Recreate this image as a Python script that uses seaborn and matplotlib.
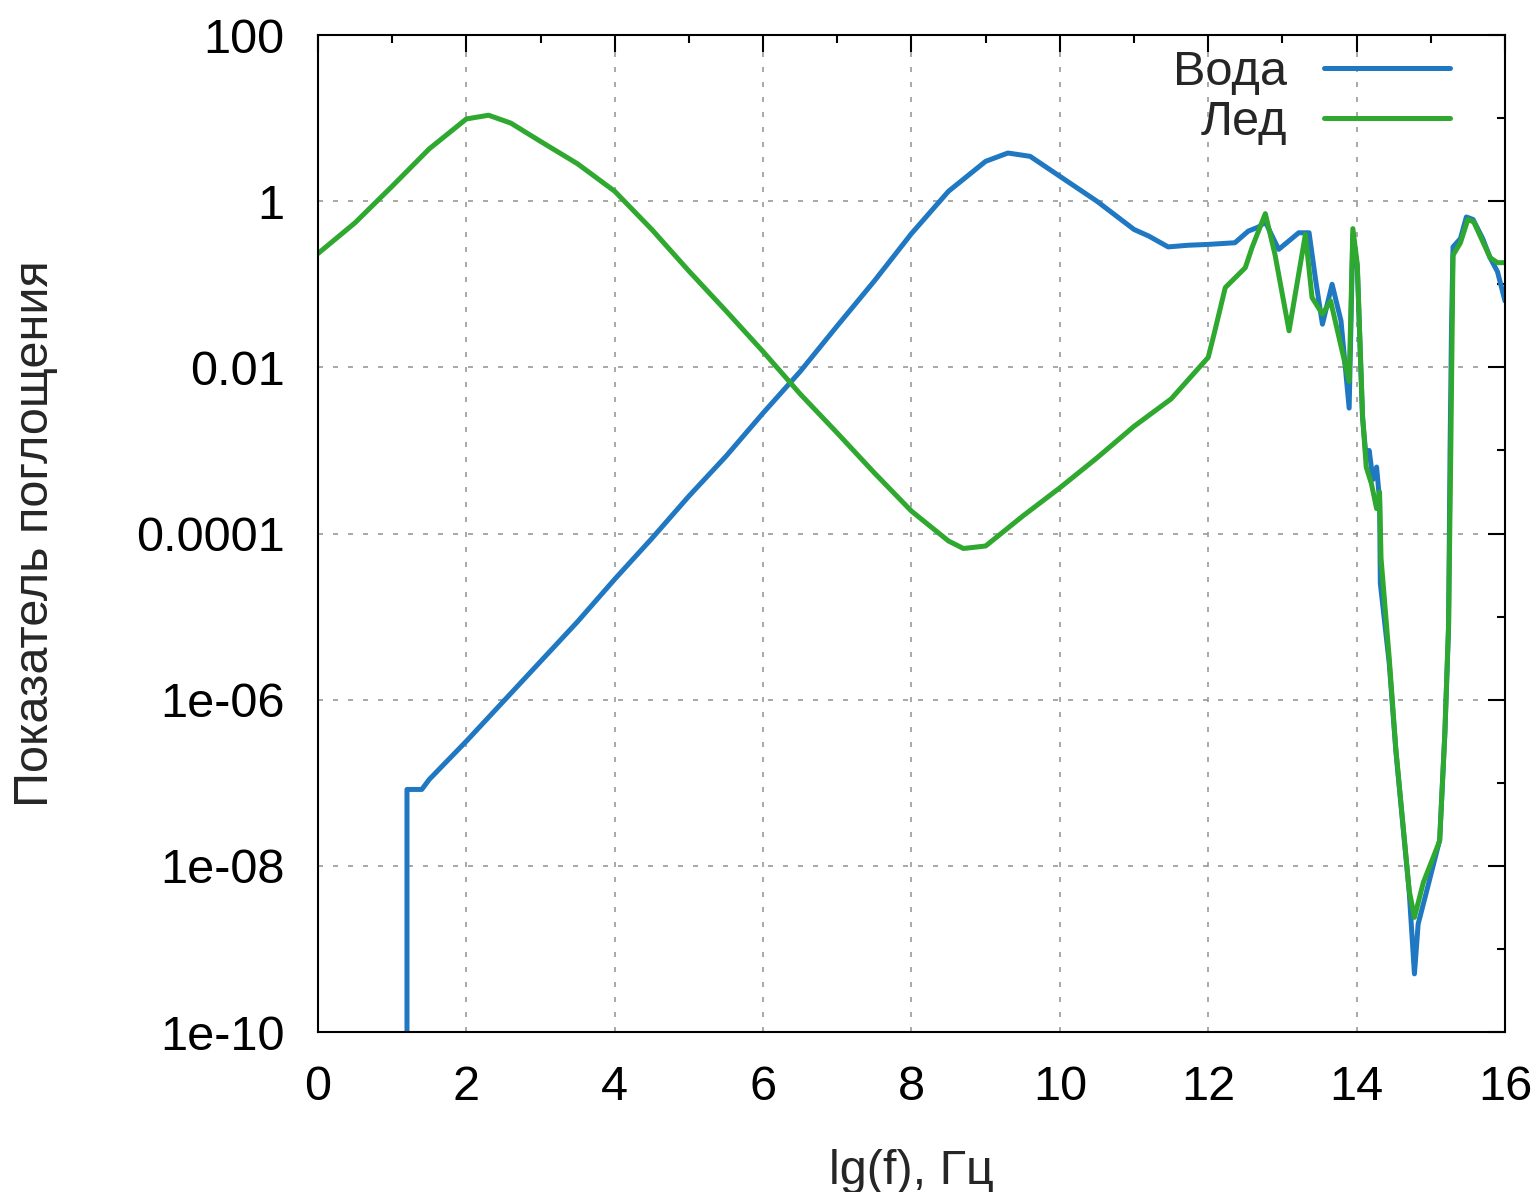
import numpy as np
import pandas as pd
import seaborn as sns
import matplotlib.pyplot as plt
from matplotlib.ticker import FixedLocator, NullFormatter

# water: lg(f) and lg(absorption index)
water_x = [1.2, 1.2, 1.4, 1.5, 2.0, 2.5, 3.0, 3.5, 4.0, 4.5, 5.0, 5.5, 6.0, 6.5,
           7.0, 7.5, 8.0, 8.5, 9.0, 9.3, 9.6, 10.0, 10.5, 11.0, 11.2, 11.46,
           11.73, 12.0, 12.36, 12.54, 12.68, 12.77, 12.95, 13.22, 13.36, 13.45,
           13.54, 13.67, 13.79, 13.90, 13.95, 14.01, 14.08, 14.13, 14.17, 14.22,
           14.27, 14.31, 14.32, 14.44, 14.53, 14.62, 14.71, 14.78, 14.83, 14.94,
           15.12, 15.19, 15.24, 15.26, 15.28, 15.30, 15.40, 15.48, 15.57, 15.70,
           15.80, 15.90, 16.0]
water_lg = [-12, -7.08, -7.08, -6.96, -6.5, -6.02, -5.54, -5.06, -4.55, -4.06,
            -3.55, -3.07, -2.55, -2.05, -1.50, -0.96, -0.39, 0.12, 0.48, 0.58,
            0.54, 0.30, 0.0, -0.34, -0.42, -0.55, -0.53, -0.52, -0.50, -0.36,
            -0.31, -0.25, -0.58, -0.38, -0.38, -0.96, -1.48, -1.0, -1.44, -2.49,
            -0.4, -0.8, -2.6, -3.1, -3.0, -3.35, -3.2, -3.6, -4.6, -5.56, -6.62,
            -7.47, -8.32, -9.3, -8.7, -8.32, -7.69, -6.41, -5.14, -3.0, -1.5,
            -0.55, -0.45, -0.19, -0.22, -0.45, -0.68, -0.85, -1.2]

# ice
ice_x = [0.0, 0.5, 1.0, 1.5, 2.0, 2.3, 2.6, 3.0, 3.5, 4.0, 4.5, 5.0, 5.5, 6.0,
         6.5, 7.0, 7.5, 8.0, 8.5, 8.7, 9.0, 9.5, 10.0, 10.5, 11.0, 11.5, 12.0,
         12.09, 12.23, 12.50, 12.59, 12.77, 12.9, 13.09, 13.31, 13.40, 13.54,
         13.65, 13.90, 13.95, 14.01, 14.08, 14.13, 14.20, 14.27, 14.31, 14.33,
         14.44, 14.53, 14.62, 14.71, 14.78, 14.90, 15.12, 15.19, 15.24, 15.27,
         15.30, 15.40, 15.50, 15.58, 15.80, 15.90, 16.0]
ice_lg = [-0.63, -0.26, 0.18, 0.63, 0.99, 1.035, 0.94, 0.72, 0.45, 0.12, -0.34,
          -0.84, -1.32, -1.81, -2.32, -2.79, -3.27, -3.73, -4.09, -4.18, -4.15,
          -3.79, -3.45, -3.09, -2.71, -2.38, -1.88, -1.56, -1.04, -0.80, -0.56,
          -0.15, -0.64, -1.56, -0.40, -1.16, -1.36, -1.2, -2.17, -0.33, -0.76,
          -2.57, -3.2, -3.4, -3.7, -3.5, -4.3, -5.5, -6.6, -7.45, -8.3, -8.62,
          -8.2, -7.7, -6.4, -5.1, -3.0, -0.65, -0.5, -0.22, -0.25, -0.68,
          -0.74, -0.74]

labels = ['Вода', 'Лед']
colors = ['#1f78c1', '#2fa82f']

df = pd.concat([
    pd.DataFrame({'x': water_x, 'y': np.power(10.0, water_lg), 's': labels[0]}),
    pd.DataFrame({'x': ice_x, 'y': np.power(10.0, ice_lg), 's': labels[1]}),
])

sns.set_style('white')
plt.rcParams['font.family'] = ['Liberation Sans', 'DejaVu Sans']

fig = plt.figure(figsize=(15.33, 11.92), dpi=100)
ax = fig.add_axes([0.2074, 0.1342, 0.7743, 0.8364])

sns.lineplot(data=df, x='x', y='y', hue='s', palette=colors, estimator=None,
             sort=False, linewidth=3.6, ax=ax)

ax.set_yscale('log')
ax.set_xlim(0, 16)
ax.set_ylim(1e-10, 100)

yt = [1e-10, 1e-8, 1e-6, 1e-4, 1e-2, 1, 100]
ax.yaxis.set_major_locator(FixedLocator(yt))
ax.set_yticklabels(['1e-10', '1e-08', '1e-06', '0.0001', '0.01', '1', '100'])
ax.yaxis.set_minor_locator(FixedLocator([1e-9, 1e-7, 1e-5, 1e-3, 0.1, 10]))
ax.yaxis.set_minor_formatter(NullFormatter())
ax.set_xticks(range(0, 17, 2))
ax.xaxis.set_minor_locator(FixedLocator(range(1, 16, 2)))
ax.xaxis.set_minor_formatter(NullFormatter())

ax.tick_params(which='both', direction='in', top=True, right=True,
               labelsize=35, width=1.5, colors='black')
ax.tick_params(which='major', length=12)
ax.tick_params(which='minor', length=6)
ax.tick_params(axis='x', which='major', pad=24)
ax.tick_params(axis='y', which='major', pad=24)

ax.grid(True, which='major', color='#999999', linestyle=(0, (3, 6)), linewidth=1.2)
for s in ax.spines.values():
    s.set_color('black')
    s.set_linewidth(1.5)

ax.set_xlabel('lg(f), Гц', fontsize=35, labelpad=28)
ax.set_ylabel('Показатель поглощения', fontsize=35, labelpad=56)

leg = ax.legend(loc='upper right', frameon=False, markerfirst=False, fontsize=35,
                handlelength=2.6, handletextpad=0.75, labelspacing=0.1,
                borderaxespad=0, borderpad=0, bbox_to_anchor=(0.954, 0.985))
for h in leg.get_lines():
    h.set_linewidth(3.6)

fig.savefig('out.png', dpi=100)
